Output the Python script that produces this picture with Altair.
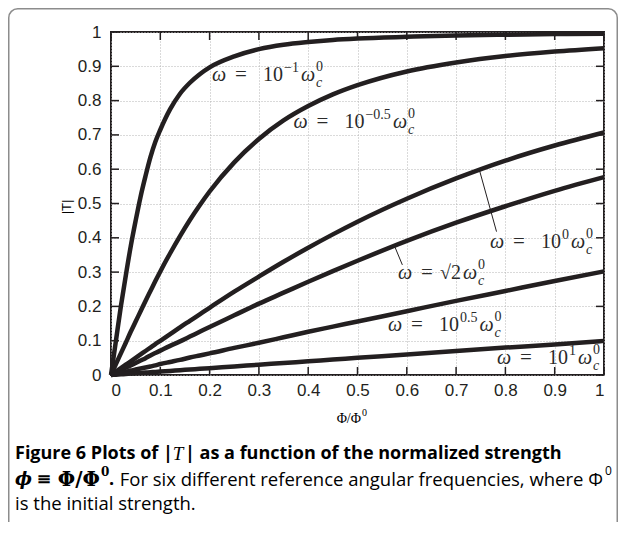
import altair as alt
import pandas as pd

# ---------------- data ----------------
PHI = [0, 0.01, 0.02, 0.03, 0.04, 0.05, 0.06, 0.07, 0.08, 0.09, 0.10, 0.12, 0.14, 0.16,
       0.18, 0.20, 0.25, 0.30, 0.35, 0.40, 0.45, 0.50, 0.60, 0.70, 0.80, 0.90, 1.00]

T_W_1EM1 = [0, 0.10, 0.20, 0.29, 0.375, 0.45, 0.52, 0.58, 0.635, 0.68, 0.715, 0.775, 0.82, 0.852,
            0.877, 0.897, 0.929, 0.95, 0.963, 0.971, 0.977, 0.981, 0.986, 0.99, 0.992, 0.994, 0.995]
T_W_1EM05 = [0, 0.032, 0.063, 0.094, 0.126, 0.156, 0.186, 0.216, 0.245, 0.274, 0.302, 0.355, 0.405, 0.452,
             0.495, 0.535, 0.62, 0.688, 0.742, 0.784, 0.818, 0.845, 0.885, 0.911, 0.93, 0.943, 0.953]
T_W_1E0 = [0, 0.01, 0.02, 0.03, 0.04, 0.05, 0.06, 0.07, 0.08, 0.09, 0.0995, 0.119, 0.139, 0.158,
           0.177, 0.196, 0.243, 0.287, 0.33, 0.371, 0.41, 0.447, 0.514, 0.573, 0.625, 0.669, 0.707]
T_W_SQRT2 = [0, 0.007, 0.014, 0.021, 0.028, 0.035, 0.042, 0.049, 0.057, 0.064, 0.071, 0.085, 0.098, 0.112,
             0.126, 0.14, 0.174, 0.208, 0.24, 0.272, 0.303, 0.333, 0.391, 0.444, 0.492, 0.537, 0.577]
T_W_1E05 = [0, 0.003, 0.006, 0.009, 0.013, 0.016, 0.019, 0.022, 0.025, 0.028, 0.032, 0.038, 0.044, 0.051,
            0.057, 0.063, 0.079, 0.094, 0.110, 0.126, 0.141, 0.156, 0.186, 0.216, 0.245, 0.274, 0.302]
T_W_1E1 = [0, 0.001, 0.002, 0.003, 0.004, 0.005, 0.006, 0.007, 0.008, 0.009, 0.010, 0.012, 0.014, 0.016,
           0.018, 0.020, 0.025, 0.030, 0.035, 0.040, 0.045, 0.050, 0.060, 0.070, 0.080, 0.089, 0.0995]

SERIES = {"1e-1": T_W_1EM1, "1e-0.5": T_W_1EM05, "1e0": T_W_1E0,
          "sqrt2": T_W_SQRT2, "1e0.5": T_W_1E05, "1e1": T_W_1E1}

TICKS = [0, 0.1, 0.2, 0.3, 0.4, 0.5, 0.6, 0.7, 0.8, 0.9, 1]

# label texts: base of the factor and its exponent
LABEL_BASE = ["10", "10", "10", "√2", "10", "10"]
LABEL_EXP = ["−1", "−0.5", "0", "", "0.5", "1"]

# ---------------- layout ----------------
W, H = 493, 343
PAD = {"left": 103, "top": 24, "right": 14, "bottom": 147}
INK = "#231f20"
LABEL_POS = [(0.205, 0.874), (0.370, 0.738), (0.769, 0.388),
             (0.582, 0.297), (0.562, 0.146), (0.783, 0.050)]
LEADERS = [(0.747, 0.599, 0.782, 0.418), (0.576, 0.373, 0.591, 0.321)]

rows = []
for name, vals in SERIES.items():
    for p, t in zip(PHI, vals):
        rows.append({"phi": p, "T": t, "series": name})
df = pd.DataFrame(rows)

xs = alt.Scale(domain=[0, 1], nice=False, zero=False)
ys = alt.Scale(domain=[0, 1], nice=False, zero=False)

axis_common = dict(values=TICKS, format="~g", grid=True, ticks=False, domain=False,
                   title=None, labelFont="Liberation Sans", labelFontSize=17, labelColor=INK,
                   gridColor="#b4b4b4", gridDash=[1, 2], gridWidth=1)
AXX = alt.Axis(labelPadding=7, **axis_common)
AXY = alt.Axis(labelPadding=10, **axis_common)

def X(f):
    return alt.X(f, scale=xs, axis=AXX)

def Y(f):
    return alt.Y(f, scale=ys, axis=AXY)

lines = alt.Chart(df).mark_line(color=INK, strokeWidth=4.5, interpolate="monotone").encode(
    x=X("phi:Q"), y=Y("T:Q"), detail="series:N")

tick_df = pd.DataFrame({"v": TICKS})
TL = 8
tick_style = dict(color=INK, strokeWidth=1.5)
t_bottom = alt.Chart(tick_df).mark_rule(**tick_style).encode(
    x=X("v:Q"), y=alt.value(H), y2=alt.value(H - TL))
t_top = alt.Chart(tick_df).mark_rule(**tick_style).encode(
    x=X("v:Q"), y=alt.value(0), y2=alt.value(TL))
t_left = alt.Chart(tick_df).mark_rule(**tick_style).encode(
    y=Y("v:Q"), x=alt.value(0), x2=alt.value(TL))
t_right = alt.Chart(tick_df).mark_rule(**tick_style).encode(
    y=Y("v:Q"), x=alt.value(W), x2=alt.value(W - TL))

# ---------------- curve labels built from pieces ----------------
CW = {"−": 8, ".": 3.5}
def exp_width(s):
    return sum(CW.get(c, 7) for c in s)

ital, upr = [], []
for (ax, ay), base, ex in zip(LABEL_POS, LABEL_BASE, LABEL_EXP):
    def put(lst, s, dx, dy, size):
        lst.append({"x": ax + dx / W, "y": ay - dy / H, "text": s, "size": size})
    put(ital, "ω", 0, 0, 20)
    put(upr, "=", 23, 0, 21)
    if base == "10":
        put(upr, "10", 51, 0, 20)
        put(upr, ex, 72, -7, 14)
        w2 = 72 + exp_width(ex) + 2
    else:
        put(upr, base, 42, 0, 20)
        w2 = 65
    put(ital, "ω", w2, 0, 20)
    put(upr, "0", w2 + 15, -8, 14)
    put(ital, "c", w2 + 15, 8, 14)

def piece_layer(rows_, style):
    return alt.Chart(pd.DataFrame(rows_)).mark_text(
        font="Liberation Serif", fontStyle=style, align="left", baseline="middle", color="#2a2a2a"
    ).encode(x=X("x:Q"), y=Y("y:Q"), text="text:N", size=alt.Size("size:Q", scale=None, legend=None))

lab_i = piece_layer(ital, "italic")
lab_u = piece_layer(upr, "normal")

lead_df = pd.DataFrame(LEADERS, columns=["x1", "y1", "x2", "y2"])
leaders = alt.Chart(lead_df).mark_rule(color=INK, strokeWidth=1).encode(
    x=X("x1:Q"), y=Y("y1:Q"), x2="x2:Q", y2="y2:Q")

# ---------------- free text (titles, caption) ----------------
ONE = pd.DataFrame({"k": [0]})
def txt(s, x, y, font, size, weight="normal", style="normal", align="left", angle=0):
    return alt.Chart(ONE).mark_text(text=s, font=font, fontSize=size, fontWeight=weight,
                                    fontStyle=style, align=align, baseline="middle",
                                    angle=angle, color="black").encode(x=alt.value(x), y=alt.value(y))

CAP = "Open Sans"
CS = 18
L1, L2, L3 = 422, 448, 472
texts = [
    txt("Φ/Φ", 250, 387, "Liberation Serif", 14, align="right"),
    txt("0", 251, 381, "Liberation Serif", 10),
    txt("|T|", -44, 175, "Liberation Sans", 13, align="center", angle=270),
    txt("Figure 6 Plots of |", -96, L1, CAP, CS, weight="bold"),
    txt("T", 67, L1, "Liberation Serif", 19, style="italic", align="center"),
    txt("| as a function of the normalized strength", 74, L1, CAP, CS, weight="bold"),
    txt("ϕ", -96, L2, "DejaVu Serif", 18, weight="bold", style="italic"),
    txt("≡", -67, L2, "DejaVu Serif", 18, weight="bold", align="center"),
    txt("Φ/Φ", -11, L2, "DejaVu Serif", 20, weight="bold", align="right"),
    txt("0", -10, L2 - 8, "DejaVu Serif", 12, weight="bold"),
    txt(".", -2, L2, CAP, CS, weight="bold"),
    txt("For six different reference angular frequencies, where Φ", 492, L2, CAP, 18.5, align="right"),
    txt("0", 494, L2 - 9, CAP, 12),
    txt("is the initial strength.", -96, L3, CAP, 18.5),
]

frame = alt.Chart(ONE).mark_rect(fill="transparent", stroke="#8c8c8c", strokeWidth=1.5,
                                 cornerRadius=9).encode(
    x=alt.value(-PAD["left"] + 0.75), x2=alt.value(W + PAD["right"] - 0.75),
    y=alt.value(-PAD["top"] + 0.75), y2=alt.value(H + PAD["bottom"] + 40))

chart = alt.layer(
    lines, frame, t_bottom, t_top, t_left, t_right, leaders, lab_u, lab_i, *texts
).properties(
    width=W, height=H, padding=PAD, autosize=alt.AutoSizeParams(type="none"), background="white"
).configure_view(stroke=INK, strokeWidth=2)

chart.save("out.html", embed_options={"renderer": "svg", "actions": False})
